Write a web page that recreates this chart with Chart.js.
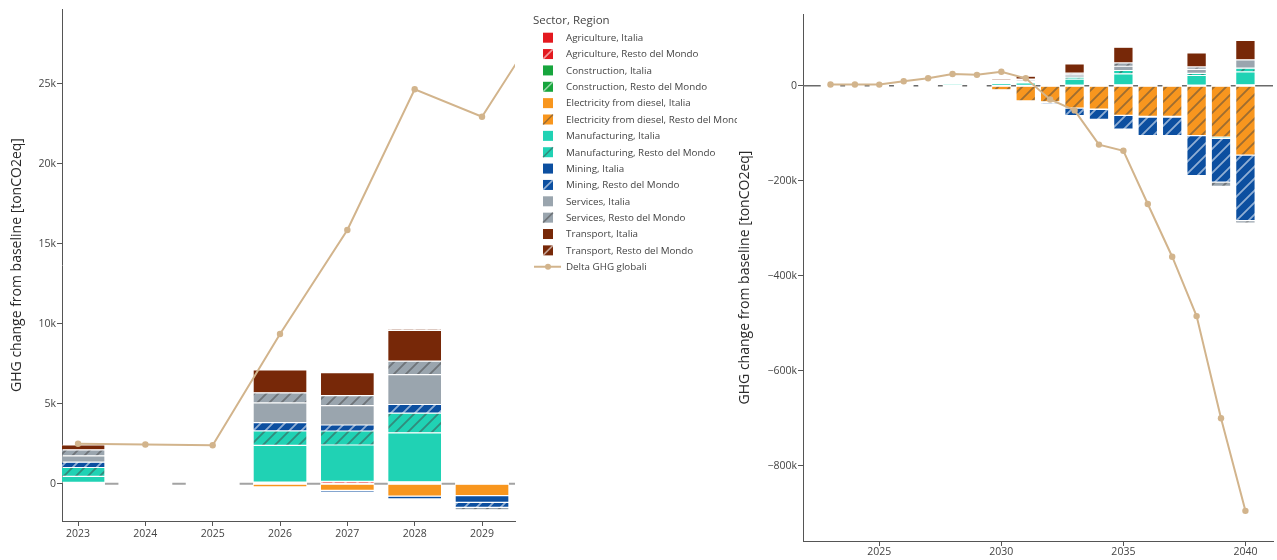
<!DOCTYPE html>
<html>
<head>
<meta charset="utf-8">
<script src="https://cdn.jsdelivr.net/npm/chart.js@4.4.1/dist/chart.umd.min.js"></script>
<style>
    html, body { margin: 0; padding: 0; background: #fff; }
    #wrap { position: relative; width: 1277px; height: 560px; overflow: hidden; }
    #left { position: absolute; left: 0; top: 0; }
    #right { position: absolute; left: 737px; top: 0; background: #fff; }
</style>
</head>
<body>
<div id="wrap">
    <canvas id="left" width="737" height="560"></canvas>
    <canvas id="right" width="540" height="560"></canvas>
</div>
<script>
// Variazione GHG rispetto al baseline, tonCO2eq per anno
const years = [2023, 2024, 2025, 2026, 2027, 2028, 2029, 2030, 2031, 2032, 2033, 2034, 2035, 2036, 2037, 2038, 2039, 2040]

const agricultureItalia = [0, 0, 0, 0, 0, 0, 0, 0, 0, 0, 0, 0, 0, 0, 0, 0, 0, 0]
const agricultureResto = [80, 0, 0, 100, 150, 120, 0, 1000, 1000, 0, 1500, 0, 2000, 0, 0, 1500, 0, 2000]
const constructionItalia = [0, 0, 0, 0, 0, 0, 0, 0, 0, 0, 0, 0, 0, 0, 0, 0, 0, 0]
const constructionResto = [0, 0, 0, 0, 0, 0, 0, 0, 0, 0, 0, 0, 0, 0, 0, 0, 0, 0]
const electricityItalia = [0, 0, 0, -200, -420, -780, -750, -1000, -1000, -1000, -1000, -1000, -1000, -1000, -1000, -1000, -1000, -1000]
const electricityResto = [0, 0, 0, 0, 0, 0, 0, -7500, -31000, -33000, -46000, -48000, -61500, -63500, -63500, -104000, -107000, -145000]
const manufacturingItalia = [375, 0, 0, 2300, 2270, 3060, 0, 4000, 5000, 0, 12500, 0, 23000, 0, 0, 20000, 0, 27000]
const manufacturingResto = [560, 0, 0, 900, 875, 1230, 0, 2000, 2000, -1000, 4000, -1000, 7000, -1400, -1400, 4500, -2800, 8000]
const miningItalia = [0, 0, 0, 0, -100, -170, -420, 0, 0, 0, 0, 0, 0, 0, 0, 0, 0, 0]
const miningResto = [330, 0, 0, 520, 375, 540, -310, 1000, 1000, -3000, -16000, -21000, -29000, -39000, -39000, -84000, -92000, -138000]
const servicesItalia = [400, 0, 0, 1230, 1210, 1870, 0, 2500, 3000, 0, 5000, 0, 9000, 0, 0, 8500, 0, 17500]
const servicesResto = [375, 0, 0, 630, 625, 840, -150, 1500, 2000, -1500, 3500, 0, 7000, -3000, -3000, 5000, -9000, -5000]
const transportItalia = [310, 0, 0, 1430, 1440, 1920, 0, 3000, 6000, 0, 19500, 0, 33000, 0, 0, 29500, 0, 41000]
const transportResto = [20, 0, 0, 70, 60, 100, 0, 1500, 1500, 0, 1000, 0, 1000, 0, 0, 1000, 0, 2000]

const deltaGlobale = [2500, 2450, 2400, 9360, 15860, 24650, 22940, 29500, 15600, -29000, -52000, -124000, -137000, -249000, -360000, -485000, -700000, -895000]

const sectorNames = ['Agriculture', 'Construction', 'Electricity from diesel', 'Manufacturing', 'Mining', 'Services', 'Transport']
const sectorColors = ['#E3191F', '#17A53D', '#F8961E', '#20D2B4', '#0C4FA0', '#9AA5AE', '#772808']
const regionNames = ['Italia', 'Resto del Mondo']
const sectorValues = [
    [agricultureItalia, agricultureResto],
    [constructionItalia, constructionResto],
    [electricityItalia, electricityResto],
    [manufacturingItalia, manufacturingResto],
    [miningItalia, miningResto],
    [servicesItalia, servicesResto],
    [transportItalia, transportResto]
]
const lineLabel = 'Delta GHG globali'
const lineColor = '#D2B48C'

Chart.defaults.font.family = '"Open Sans", sans-serif'
Chart.defaults.color = '#444'

// colore di contrasto per il tratteggio (scuro su colori chiari, bianco su colori scuri)
function hatchInk(hex) {
    const r = parseInt(hex.slice(1, 3), 16)
    const g = parseInt(hex.slice(3, 5), 16)
    const b = parseInt(hex.slice(5, 7), 16)
    const bright = (r * 299 + g * 587 + b * 114) / 1000
    return bright < 128 ? 'rgba(255,255,255,0.55)' : 'rgba(68,68,68,0.5)'
}

function hatchPattern(color) {
    const s = 12
    const c = document.createElement('canvas')
    c.width = s
    c.height = s
    const g = c.getContext('2d')
    g.fillStyle = color
    g.fillRect(0, 0, s, s)
    g.strokeStyle = hatchInk(color)
    g.lineWidth = 1.8
    g.beginPath()
    g.moveTo(-2, s + 2); g.lineTo(s + 2, -2)
    g.moveTo(-2, 2); g.lineTo(2, -2)
    g.moveTo(s - 2, s + 2); g.lineTo(s + 2, s - 2)
    g.stroke()
    return g.createPattern(c, 'repeat')
}

// l'asse y lavora in migliaia di tonnellate
function points(values) {
    return years.map((x, i) => ({ x: x, y: values[i] / 1000 }))
}

function buildDatasets() {
    const sets = []
    sectorNames.forEach((sector, s) => {
        regionNames.forEach((region, r) => {
            const color = sectorColors[s]
            sets.push({
                type: 'bar',
                label: sector + ', ' + region,
                data: points(sectorValues[s][r]),
                backgroundColor: r === 0 ? color : hatchPattern(color),
                baseColor: color,
                hatched: r === 1,
                borderColor: '#fff',
                borderWidth: 0.6,
                borderSkipped: false,
                barPercentage: 1,
                categoryPercentage: 0.8
            })
        })
    })
    sets.push({
        type: 'line',
        label: lineLabel,
        data: points(deltaGlobale),
        borderColor: lineColor,
        backgroundColor: lineColor,
        borderWidth: 2,
        pointRadius: 3.2,
        pointBorderWidth: 0,
        pointBackgroundColor: lineColor,
        stack: 'delta',
        order: -1
    })
    return sets
}

// linea dello zero visibile solo tra una barra e l'altra
const zeroLine = {
    id: 'zeroLine',
    beforeDatasetsDraw(chart, args, opts) {
        const { ctx, chartArea: area, scales } = chart
        const y = scales.y.getPixelForValue(0)
        const bars = chart.getDatasetMeta(0).data.slice().sort((a, b) => a.x - b.x)
        ctx.save()
        ctx.beginPath()
        ctx.rect(area.left, area.top, area.right - area.left, area.bottom - area.top)
        ctx.clip()
        ctx.strokeStyle = opts.color
        ctx.lineWidth = opts.width
        ctx.beginPath()
        let start = area.left
        bars.forEach((b) => {
            const l = b.x - b.width / 2
            const r = b.x + b.width / 2
            if (l > start) {
                ctx.moveTo(start, y)
                ctx.lineTo(l, y)
            }
            start = Math.max(start, r)
        })
        if (start < area.right) {
            ctx.moveTo(start, y)
            ctx.lineTo(area.right, y)
        }
        ctx.stroke()
        ctx.restore()
    }
}

// legenda a destra del grafico
const sideLegend = {
    id: 'sideLegend',
    afterDraw(chart, args, opts) {
        if (!opts.display) return
        const { ctx, chartArea } = chart
        const x0 = chartArea.right + 18
        ctx.save()
        ctx.textBaseline = 'middle'
        ctx.fillStyle = '#444'
        ctx.font = '11.5px "Open Sans", sans-serif'
        ctx.fillText(opts.title, x0, 21)
        ctx.font = '9.8px "Open Sans", sans-serif'
        chart.data.datasets.forEach((ds, i) => {
            const y = 37.7 + i * 16.36
            if (ds.type === 'bar') {
                ctx.fillStyle = ds.baseColor
                ctx.fillRect(x0 + 10, y - 5, 10, 10)
                if (ds.hatched) {
                    ctx.strokeStyle = hatchInk(ds.baseColor)
                    ctx.lineWidth = 1.6
                    ctx.beginPath()
                    ctx.moveTo(x0 + 10, y + 5)
                    ctx.lineTo(x0 + 20, y - 5)
                    ctx.stroke()
                }
            } else {
                ctx.strokeStyle = ds.borderColor
                ctx.lineWidth = 2
                ctx.beginPath()
                ctx.moveTo(x0 + 1, y)
                ctx.lineTo(x0 + 28, y)
                ctx.stroke()
                ctx.fillStyle = ds.borderColor
                ctx.beginPath()
                ctx.arc(x0 + 15, y, 3, 0, Math.PI * 2)
                ctx.fill()
            }
            ctx.fillStyle = '#444'
            ctx.fillText(ds.label, x0 + 33, y + 0.5)
        })
        ctx.restore()
    }
}

function kLabel(value) {
    if (value === 0) return '0'
    return (value < 0 ? '\u2212' : '') + Math.abs(value) + 'k'
}

function makeChart(canvasId, cfg) {
    return new Chart(document.getElementById(canvasId), {
        data: { datasets: buildDatasets() },
        options: {
            responsive: false,
            animation: false,
            events: [],
            layout: { padding: cfg.padding },
            plugins: {
                legend: { display: false },
                tooltip: { enabled: false },
                zeroLine: cfg.zero,
                sideLegend: cfg.legend
            },
            scales: {
                x: {
                    type: 'linear',
                    stacked: true,
                    min: cfg.xMin,
                    max: cfg.xMax,
                    offset: false,
                    border: { color: '#555', width: 1 },
                    grid: { drawOnChartArea: false, tickLength: 5, color: '#555', tickColor: '#555', offset: false },
                    ticks: {
                        stepSize: cfg.xStep,
                        includeBounds: false,
                        padding: cfg.xPad,
                        font: { size: 10.5 },
                        color: '#444',
                        maxRotation: 0,
                        callback: (v) => String(v)
                    },
                    afterFit: (scale) => { scale.height = cfg.xHeight }
                },
                y: {
                    stacked: true,
                    min: cfg.yMin,
                    max: cfg.yMax,
                    border: { color: '#555', width: 1 },
                    grid: { drawOnChartArea: false, tickLength: 5, color: '#555', tickColor: '#555' },
                    ticks: {
                        stepSize: cfg.yStep,
                        includeBounds: false,
                        padding: 1,
                        font: { size: 10.5 },
                        color: '#444',
                        callback: kLabel
                    },
                    title: {
                        display: true,
                        text: 'GHG change from baseline [tonCO2eq]',
                        color: '#2a2a2a',
                        font: { size: 14 },
                        padding: { top: cfg.titlePad, bottom: 0 }
                    },
                    afterFit: (scale) => { scale.width = cfg.yWidth }
                }
            }
        },
        plugins: [zeroLine, sideLegend]
    })
}

// primi anni, con legenda
makeChart('left', {
    padding: { top: 9, right: 222, left: 0, bottom: 0 },
    xMin: 2022.762, xMax: 2029.49, xStep: 1, xPad: 2, xHeight: 39,
    yMin: -2.33, yMax: 29.67, yStep: 5, yWidth: 62, titlePad: 9,
    zero: { color: '#a3a3a3', width: 2 },
    legend: { display: true, title: 'Sector, Region' }
})

// orizzonte completo al 2040
makeChart('right', {
    padding: { top: 14, right: 0, left: 0, bottom: 0 },
    xMin: 2021.874, xMax: 2041.13, xStep: 5, xPad: 0, xHeight: 19,
    yMin: -958.5, yMax: 151, yStep: 200, yWidth: 66, titlePad: 0,
    zero: { color: '#6a6a6a', width: 1.5 },
    legend: { display: false }
})
</script>
</body>
</html>
